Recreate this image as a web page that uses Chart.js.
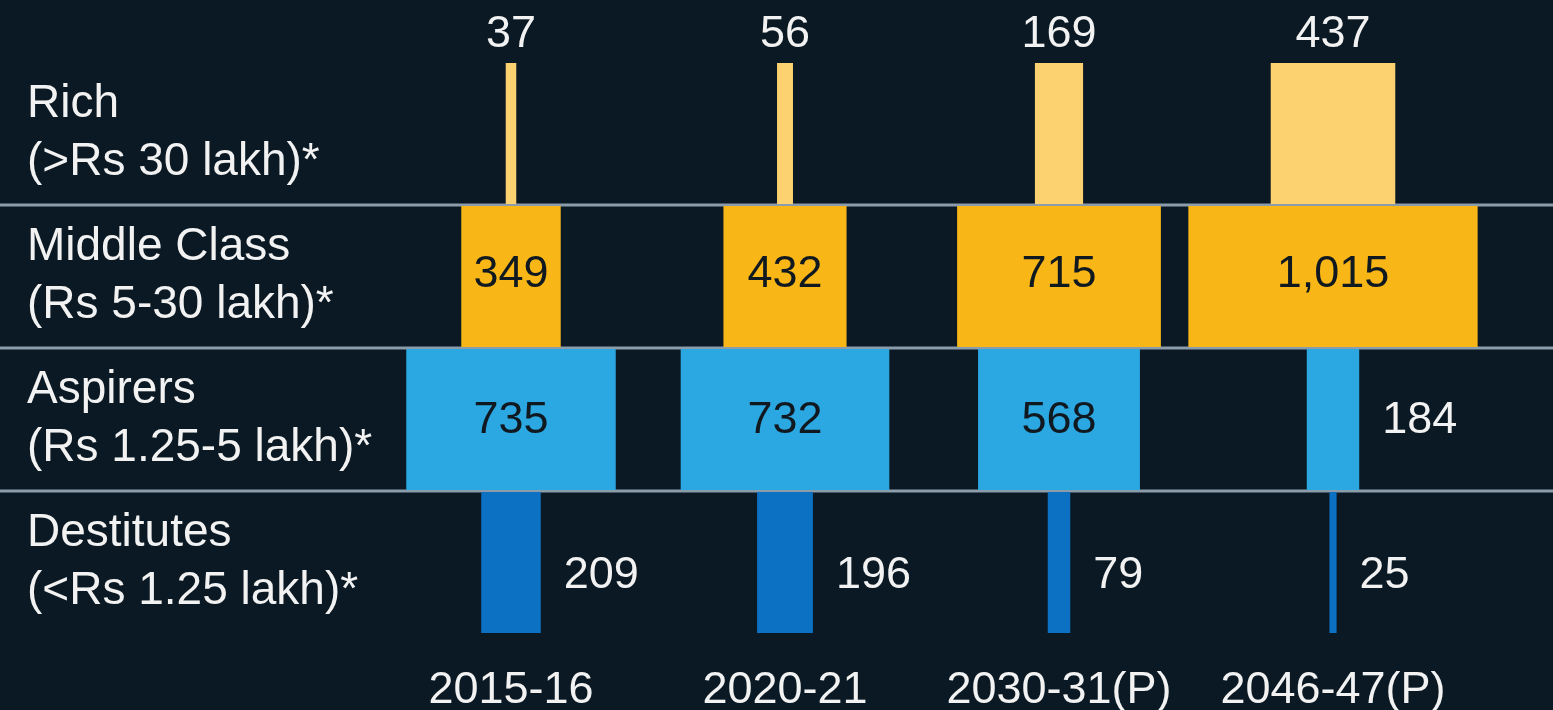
<!DOCTYPE html>
<html>
<head>
<meta charset="utf-8">
<script src="https://cdn.jsdelivr.net/npm/chart.js@4"></script>
<style>
  html, body { margin: 0; padding: 0; background: #0a1923; }
  #wrap { position: relative; width: 1553px; height: 710px; }
</style>
</head>
<body>
<div id="wrap"><canvas id="chart"></canvas></div>
<script>
// rows (income classes) and columns (years)
const rowNames = [
  ["Rich", "(>Rs 30 lakh)*"],
  ["Middle Class", "(Rs 5-30 lakh)*"],
  ["Aspirers", "(Rs 1.25-5 lakh)*"],
  ["Destitutes", "(<Rs 1.25 lakh)*"]
];
const years = ["2015-16", "2020-21", "2030-31(P)", "2046-47(P)"];

// values per class, one per year
const rich = [37, 56, 169, 437];
const middleClass = [349, 432, 715, 1015];
const aspirers = [735, 732, 568, 184];
const destitutes = [209, 196, 79, 25];

const rowColors = ["#fbd26f", "#f8b716", "#2ba8e1", "#0c71c2"];
const rowValues = [rich, middleClass, aspirers, destitutes];

// bar width is the value; half width in column units
const unit = 0.285 / 274 / 2;
const fontFamily = "'Liberation Sans', Arial, sans-serif";

const datasets = years.map((yr, col) => ({
  label: yr,
  data: rowValues.map(vals => [col - vals[col] * unit, col + vals[col] * unit]),
  rawValues: rowValues.map(vals => vals[col]),
  backgroundColor: rowColors,
  borderWidth: 0,
  barPercentage: 1,
  categoryPercentage: 0.985,
  grouped: false
}));

const separators = {
  id: "separators",
  beforeDatasetsDraw(chart) {
    const ctx = chart.ctx;
    const y = chart.scales.y;
    ctx.save();
    ctx.strokeStyle = "#8b9cab";
    ctx.lineWidth = 3;
    for (let i = 1; i < rowNames.length; i++) {
      const py = (y.getPixelForValue(i - 1) + y.getPixelForValue(i)) / 2;
      ctx.beginPath();
      ctx.moveTo(0, py);
      ctx.lineTo(chart.width, py);
      ctx.stroke();
    }
    ctx.restore();
  }
};

const valueLabels = {
  id: "valueLabels",
  afterDatasetsDraw(chart) {
    const ctx = chart.ctx;
    ctx.save();
    ctx.font = "45px " + fontFamily;
    ctx.textBaseline = "middle";
    chart.data.datasets.forEach((ds, di) => {
      chart.getDatasetMeta(di).data.forEach((bar, row) => {
        const txt = ds.rawValues[row].toLocaleString("en-US");
        const left = Math.min(bar.x, bar.base);
        const right = Math.max(bar.x, bar.base);
        const cx = (left + right) / 2;
        const tw = ctx.measureText(txt).width;
        if (row === 0) {
          ctx.fillStyle = "#f2f2f2";
          ctx.textAlign = "center";
          ctx.fillText(txt, cx, chart.chartArea.top - 27);
        } else if (right - left > tw + 20) {
          ctx.fillStyle = "#101820";
          ctx.textAlign = "center";
          ctx.fillText(txt, cx, bar.y + (row === 1 ? -2 : 1));
        } else {
          ctx.fillStyle = "#f2f2f2";
          ctx.textAlign = "left";
          ctx.fillText(txt, right + 23, bar.y + (row === 3 ? 13 : 1));
        }
      });
    });
    ctx.restore();
  }
};

new Chart(document.getElementById("chart"), {
  type: "bar",
  data: { labels: rowNames, datasets: datasets },
  plugins: [separators, valueLabels],
  options: {
    indexAxis: "y",
    responsive: true,
    maintainAspectRatio: false,
    animation: false,
    layout: { padding: { top: 62, left: 27, right: 0, bottom: 0 } },
    plugins: { legend: { display: false }, tooltip: { enabled: false } },
    scales: {
      x: {
        type: "linear",
        min: (400 - 511) / 274,
        max: (1553 - 511) / 274,
        grid: { display: false, drawTicks: false },
        border: { display: false },
        afterBuildTicks: (axis) => { axis.ticks = years.map((_, i) => ({ value: i })); },
        afterFit: (axis) => { axis.height = 76; },
        ticks: {
          autoSkip: false,
          maxRotation: 0,
          padding: 30,
          color: "#f2f2f2",
          font: { family: fontFamily, size: 45 },
          callback: (v) => years[v]
        }
      },
      y: {
        grid: { display: false, drawTicks: false },
        border: { display: false },
        afterFit: (axis) => { axis.width = 373; },
        ticks: {
          crossAlign: "far",
          padding: 0,
          color: "#f2f2f2",
          font: { family: fontFamily, size: 46, lineHeight: 1.26 }
        }
      }
    }
  }
});
</script>
</body>
</html>
